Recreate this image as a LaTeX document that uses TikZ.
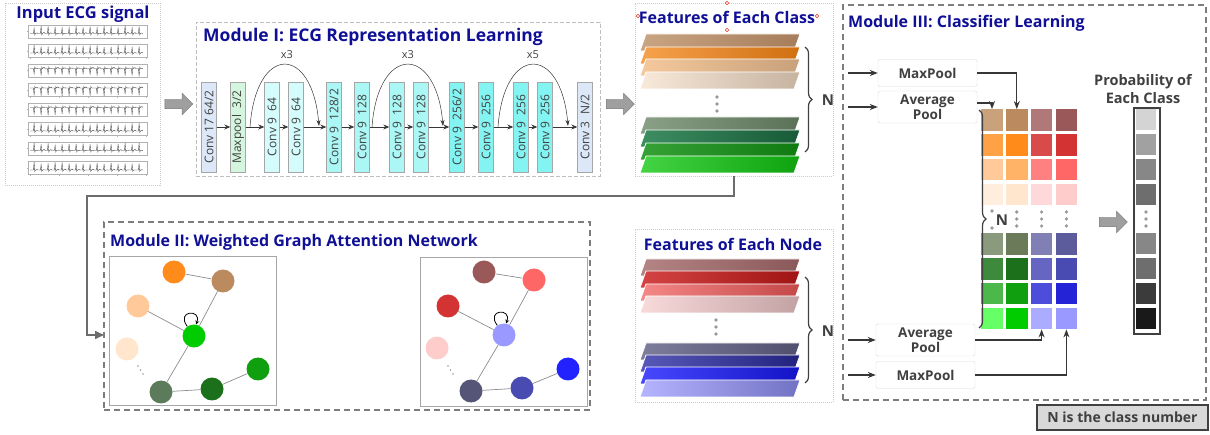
\documentclass[tikz,border=0pt]{standalone}
\usepackage{fontspec}
\setmainfont{Open Sans}
\usetikzlibrary{arrows.meta,calc,shapes.arrows,decorations.pathreplacing}

\definecolor{titleblue}{RGB}{16,16,150}
\definecolor{txtgray}{RGB}{64,64,64}
\definecolor{flowgray}{RGB}{55,55,55}
\definecolor{boxgray}{RGB}{125,125,125}
\definecolor{convA}{RGB}{220,232,248}
\definecolor{poolA}{RGB}{212,246,222}
\definecolor{convB}{RGB}{212,252,252}
\definecolor{convC}{RGB}{170,247,245}
\definecolor{convD}{RGB}{132,244,242}
% slab shades, left -> right
\definecolor{sa1}{HTML}{C9A584}\definecolor{sb1}{HTML}{A67D5B}
\definecolor{sa2}{HTML}{F7A24E}\definecolor{sb2}{HTML}{CF6F10}
\definecolor{sa3}{HTML}{F5C99C}\definecolor{sb3}{HTML}{C8A07A}
\definecolor{sa4}{HTML}{F8E9DA}\definecolor{sb4}{HTML}{C6B3A0}
\definecolor{sa5}{HTML}{8BA187}\definecolor{sb5}{HTML}{5A7158}
\definecolor{sa6}{HTML}{3E8E62}\definecolor{sb6}{HTML}{175A37}
\definecolor{sa7}{HTML}{36A236}\definecolor{sb7}{HTML}{0F7A10}
\definecolor{sa8}{HTML}{44D444}\definecolor{sb8}{HTML}{0EA30E}
\definecolor{ta1}{HTML}{B58585}\definecolor{tb1}{HTML}{8A5858}
\definecolor{ta2}{HTML}{D44444}\definecolor{tb2}{HTML}{A01414}
\definecolor{ta3}{HTML}{F58888}\definecolor{tb3}{HTML}{C44848}
\definecolor{ta4}{HTML}{F9DADA}\definecolor{tb4}{HTML}{C2A2A2}
\definecolor{ta5}{HTML}{7E7E9C}\definecolor{tb5}{HTML}{50506E}
\definecolor{ta6}{HTML}{5858B8}\definecolor{tb6}{HTML}{22227E}
\definecolor{ta7}{HTML}{4848FF}\definecolor{tb7}{HTML}{1212C6}
\definecolor{ta8}{HTML}{B4B4FF}\definecolor{tb8}{HTML}{7272C4}
% score grid, row/column
\definecolor{g11}{HTML}{C9A17B}\definecolor{g12}{HTML}{BC8A5F}\definecolor{g13}{HTML}{B07878}\definecolor{g14}{HTML}{9A5858}
\definecolor{g21}{HTML}{FFA245}\definecolor{g22}{HTML}{FF8C1A}\definecolor{g23}{HTML}{D94A4A}\definecolor{g24}{HTML}{D43333}
\definecolor{g31}{HTML}{FFC999}\definecolor{g32}{HTML}{FFB366}\definecolor{g33}{HTML}{FF8080}\definecolor{g34}{HTML}{FF6666}
\definecolor{g41}{HTML}{FFEEDD}\definecolor{g42}{HTML}{FFE6CC}\definecolor{g43}{HTML}{FFD9D9}\definecolor{g44}{HTML}{FFCCCC}
\definecolor{g51}{HTML}{8A9A7C}\definecolor{g52}{HTML}{6B7A59}\definecolor{g53}{HTML}{8080B5}\definecolor{g54}{HTML}{5C5C9C}
\definecolor{g61}{HTML}{3D8A3D}\definecolor{g62}{HTML}{1C701C}\definecolor{g63}{HTML}{6666C2}\definecolor{g64}{HTML}{4A4AB3}
\definecolor{g71}{HTML}{4CB84C}\definecolor{g72}{HTML}{0F9F0F}\definecolor{g73}{HTML}{4D4DDB}\definecolor{g74}{HTML}{2424D6}
\definecolor{g81}{HTML}{66FF66}\definecolor{g82}{HTML}{00CC00}\definecolor{g83}{HTML}{ABABFF}\definecolor{g84}{HTML}{9999FF}
\definecolor{nodeF}{HTML}{5B7B5B}\definecolor{nodeR}{HTML}{555577}\definecolor{nodeB}{HTML}{2222FF}

\newcommand\featslab[4]{\shadedraw[left color=#3,right color=#4,draw=white,line width=0.8]
  (640,{#1+#2}) -- (646,#1) -- (800,#1) -- (794,{#1+#2}) -- cycle;}

\begin{document}
\begin{tikzpicture}[x=1pt,y=-1pt,
  title/.style={text=titleblue,font=\bfseries\fontsize{16}{16}\selectfont,anchor=west,inner sep=0},
  subtitle/.style={text=titleblue,font=\bfseries\fontsize{16}{16}\selectfont,inner sep=0},
  layer/.style={draw=gray!70,minimum width=15,minimum height=90,inner sep=0,font=\fontsize{12}{12}\selectfont,text=txtgray},
  flow/.style={draw=flowgray,line width=0.7,-{Stealth[length=6,width=5]}},
  skip/.style={draw=flowgray,line width=0.5,-{Stealth[length=6,width=4]}},
  arr/.style={draw=flowgray,line width=1.1,-{Stealth[length=8,width=6]}},
  conn/.style={draw=gray!85!black,line width=1.6,-{Triangle[length=9,width=8]}},
  bigarrow/.style={single arrow,fill=gray!75,draw=gray!90!black,minimum height=28,minimum width=21,single arrow head extend=6,inner sep=4.5},
  modbox/.style={draw=boxgray,dash pattern=on 6pt off 4pt,line width=1.4,inner sep=0},
  lightbox/.style={draw=gray!50,dash pattern=on 4pt off 2pt,line width=0.8,inner sep=0},
  dotbox/.style={draw=gray!40,dash pattern=on 1pt off 1pt,line width=0.7,inner sep=0},
  panel/.style={draw=gray!70,line width=1,inner sep=0},
  gnode/.style={circle,minimum size=23,inner sep=0,fill=#1},
  gedge/.style={draw=gray!90,line width=0.7},
  pool/.style={draw=gray!30,rounded corners=2,fill=white,minimum width=99,minimum height=27,inner sep=0,
    font=\bfseries\fontsize{13.5}{10.5}\selectfont,text=txtgray,align=center},
  cell/.style={minimum size=21.5,inner sep=0},
  pcell/.style={minimum width=20,minimum height=21,inner sep=0},
  brace/.style={decorate,decoration={brace,amplitude=7},draw=txtgray,line width=1.2},
  bigN/.style={font=\bfseries\fontsize{15}{15}\selectfont,text=txtgray,inner sep=0},
  vdots/.style={fill=gray!80,circle,inner sep=1.3},
  handle/.style={circle,draw=red!55!brown,fill=white,inner sep=1.2,line width=0.5}
]
\useasboundingbox (0,0) rectangle (1210,435);

% input signal
\node[dotbox,minimum width=155,minimum height=182] (ecg) at (82.5,94) {};
\node[subtitle,font=\bfseries\fontsize{16.5}{16.5}\selectfont] (ecgt) at (83,14) {Input ECG signal};
\pgfmathsetseed{7}
\foreach \r/\s in {0/1,1/1,2/-1,3/-1,4/-1,5/1,6/1,7/1}{
  \pgfmathsetmacro\yy{31.5+19.5*\r}
  \pgfmathsetmacro\bb{\yy+2*\s}
  \draw[gray!60,line width=0.4] (28,\yy-6.5) rectangle (147,\yy+6.5);
  \draw[black!80,line width=0.35] (30,\bb) \foreach \k in {0,...,15}{
    -- ({31+7*\k+2.5},\bb) -- ({31+7*\k+3.1},{\bb-(\s)*(5+3*rnd)}) -- ({31+7*\k+3.8},{\bb+1.5*(\s)})
    -- ({31+7*\k+4.5},\bb) -- ({31+7*\k+6},{\bb-1.2*rnd}) -- ({31+7*\k+7},\bb)};
  \foreach \t in {0,...,4} \draw[gray!60,line width=0.3] ({30+29*\t},\yy+6.5) -- ++(0,1.5);
  \draw[gray!60,line width=0.3] (28,\yy) -- ++(-1.5,0);
}
\node[bigarrow] (arrIn) at (176.5,104) {};

% module I
\node[lightbox,minimum width=404,minimum height=154] (mod1) at (398,99) {};
\node[title,font=\bfseries\fontsize{17.5}{17.5}\selectfont] (mod1t) at (203,37) {Module I: ECG Representation Learning};
\foreach \x/\lab/\col [count=\i] in {
  209/{Conv 17 64/2}/convA, 238/{Maxpool\ \ 3/2}/poolA, 272/{Conv 9\ \ 64}/convB, 296/{Conv 9\ \ 64}/convB,
  334/{Conv 9\ \ 128/2}/convC, 362/{Conv 9\ \ 128}/convC, 397/{Conv 9\ \ 128}/convC, 421/{Conv 9\ \ 128}/convC,
  457/{Conv 9\ \ 256/2}/convD, 486/{Conv 9\ \ 256}/convD, 521/{Conv 9\ \ 256}/convD, 545/{Conv 9\ \ 256}/convD,
  585/{Conv 3\ \ N/2}/convA}
  \node[layer,fill=\col] (l\i) at (\x,127) {\rotatebox{90}{\lab}};
\foreach \i [evaluate=\i as \j using int(\i+1)] in {1,...,12}
  \draw[flow] (l\i.east) -- (l\j.west);
\draw[skip] (250,127) .. controls (256,44) and (312,44) .. (319,126);
\draw[skip] (372,127) .. controls (378,44) and (436,44) .. (443,126);
\draw[skip] (498,127) .. controls (504,44) and (561,44) .. (568,126);
\foreach \x/\n in {287/x3,408/x3,533/x5}
  \node[text=txtgray,font=\fontsize{11}{11}\selectfont] at (\x,55) {\n};
\node[bigarrow] (arrOut) at (618,104) {};

% features of each class
\node[dotbox,minimum width=198,minimum height=173] (fcls) at (734,89.5) {};
\node[subtitle] (fclst) at (727,17) {Features of Each Class};
\foreach \p in {(638,16),(727,3),(817,16),(727,30)} \node[handle] at \p {};
\featslab{34}{17}{sa1}{sb1}
\featslab{47}{17}{sa2}{sb2}
\featslab{59}{17}{sa3}{sb3}
\featslab{72}{17}{sa4}{sb4}
\featslab{117}{17}{sa5}{sb5}
\featslab{130}{17}{sa6}{sb6}
\featslab{143}{17}{sa7}{sb7}
\featslab{156}{17}{sa8}{sb8}
\foreach \y in {97,104,111} \node[vdots] at (717,\y) {};
\draw[brace] (805,47) -- (805,152);
\node[bigN] (nc) at (828,100) {N};

% feed-back to module II
\coordinate (bend) at (87,196);
\coordinate (m2in) at (104,335);
\draw[conn] (fcls.south) |- (bend) |- (m2in);

% module II
\node[modbox,minimum width=486,minimum height=188] (mod2) at (347,316) {};
\node[title] (mod2t) at (110,242) {Module II: Weighted Graph Attention Network};
\node[panel,minimum width=167,minimum height=149] (gpL) at (192.5,331) {};
\node[panel,minimum width=167,minimum height=148] (gpR) at (503.5,332) {};

\node[gnode=g22] (oA) at (174,272) {};
\node[gnode=g12] (oB) at (223,281) {};
\node[gnode=g31] (oC) at (138,306) {};
\node[gnode=g82] (oD) at (194,336) {};
\node[gnode=g42] (oE) at (127,349) {};
\node[gnode=nodeF] (oF) at (161,392) {};
\node[gnode=g62] (oG) at (212,389) {};
\node[gnode=g72] (oH) at (258,369) {};
\draw[gedge] (oA) -- (oB);
\draw[gedge] (oB) -- (oD);
\draw[gedge] (oC) -- (oD);
\draw[gedge] (oD) -- (oF);
\draw[gedge] (oF) -- (oG);
\draw[gedge] (oG) -- (oH);
\draw[line width=0.8,-{Stealth[length=4,width=4]}] (oD.125) .. controls +(-12,-16) and +(6,-16) .. (oD.80);
\foreach \d in {0,1,2} \fill[gray!80] ({138+2.5*\d},{366+4*\d}) circle (0.9);

\node[gnode=g14] (rA) at (484,272) {};
\node[gnode=g34] (rB) at (534,280) {};
\node[gnode=g24] (rC) at (448,306) {};
\node[gnode=g84] (rD) at (504,335) {};
\node[gnode=g44] (rE) at (437,348) {};
\node[gnode=nodeR] (rF) at (471,391) {};
\node[gnode=g64] (rG) at (522,388) {};
\node[gnode=nodeB] (rH) at (568,369) {};
\draw[gedge] (rA) -- (rB);
\draw[gedge] (rB) -- (rD);
\draw[gedge] (rC) -- (rD);
\draw[gedge] (rD) -- (rF);
\draw[gedge] (rF) -- (rG);
\draw[gedge] (rG) -- (rH);
\draw[line width=0.8,-{Stealth[length=4,width=4]}] (rD.125) .. controls +(-12,-16) and +(6,-16) .. (rD.80);
\foreach \d in {0,1,2} \fill[gray!80] ({448+2.5*\d},{366+4*\d}) circle (0.9);

% features of each node
\node[dotbox,minimum width=198,minimum height=173] (fnod) at (734,315.5) {};
\node[subtitle] (fnodt) at (733,244) {Features of Each Node};
\featslab{259}{17}{ta1}{tb1}
\featslab{271}{17}{ta2}{tb2}
\featslab{284}{17}{ta3}{tb3}
\featslab{296}{17}{ta4}{tb4}
\featslab{343}{17}{ta5}{tb5}
\featslab{355}{17}{ta6}{tb6}
\featslab{367}{17}{ta7}{tb7}
\featslab{380}{17}{ta8}{tb8}
\foreach \y in {320,327,334} \node[vdots] at (716,\y) {};
\draw[brace] (805,277) -- (805,383);
\node[bigN] (nn) at (828,331) {N};

% module III
\node[modbox,minimum width=363,minimum height=395] (mod3) at (1024.5,202.5) {};
\node[title] (mod3t) at (848,23) {Module III: Classifier Learning};
\node[pool] (mpA) at (927.5,73) {MaxPool};
\node[pool,minimum height=32] (apA) at (927.5,107) {Average\\Pool};
\node[pool,minimum height=32] (apB) at (925.5,340) {Average\\Pool};
\node[pool] (mpB) at (925.5,375) {MaxPool};
\coordinate (inA) at (848,73);
\coordinate (inB) at (848,107);
\coordinate (inC) at (848,340);
\coordinate (inD) at (848,375);
\draw[arr] (inA) -- (mpA);
\draw[arr] (inB) -- (apA);
\draw[arr] (inC) -- (apB);
\draw[arr] (inD) -- (mpB);

\foreach \r/\y in {1/120,2/145,3/169.5,4/194.5,5/244,6/269,7/293.5,8/318.5}
  \foreach \c in {1,...,4}
    \node[cell,fill=g\r\c] (c-\r-\c) at ({992+24.8*(\c-1)},\y) {};
\foreach \c in {2,3,4}
  \foreach \y in {212,219,226} \node[vdots] at ({992+24.8*(\c-1)},\y) {};
\foreach \y in {211,228} \node[vdots] at (992,\y) {};
\draw[brace] (979,110) -- (979,328);
\node[bigN] (ng) at (1002,220) {N};

\draw[arr] (mpA.east) -| (c-1-2.north);
\draw[arr] ($(apA.east)+(0,-4)$) -| (c-1-1.north);
\draw[arr] (apB.east) -| (c-8-3.south);
\draw[arr] (mpB.east) -| (c-8-4.south);

\node[bigarrow] (arrProb) at (1111,222) {};

\node[text=txtgray,font=\bfseries\fontsize{14.5}{18}\selectfont,align=center,inner sep=0] (probt) at (1143,89) {Probability of\\Each Class};
\node[draw=txtgray,line width=1.3,minimum width=26,minimum height=226,inner sep=0] (pbar) at (1147,221) {};
\foreach \y/\g [count=\i] in {120/83,145/63,169.5/53,194.5/43,244/53,269/43,293.5/23,318.5/10}
  \node[pcell,fill=black!\the\numexpr100-\g\relax] (p\i) at (1146,\y) {};
\foreach \y in {212,219,226} \node[vdots] at (1146,\y) {};

\node[draw=txtgray,line width=1.5,fill=gray!30,minimum width=171,minimum height=25,inner sep=0,
  font=\bfseries\fontsize{14}{14}\selectfont,text=txtgray] (note) at (1122.5,417.5) {N is the class number};
\end{tikzpicture}
\end{document}
